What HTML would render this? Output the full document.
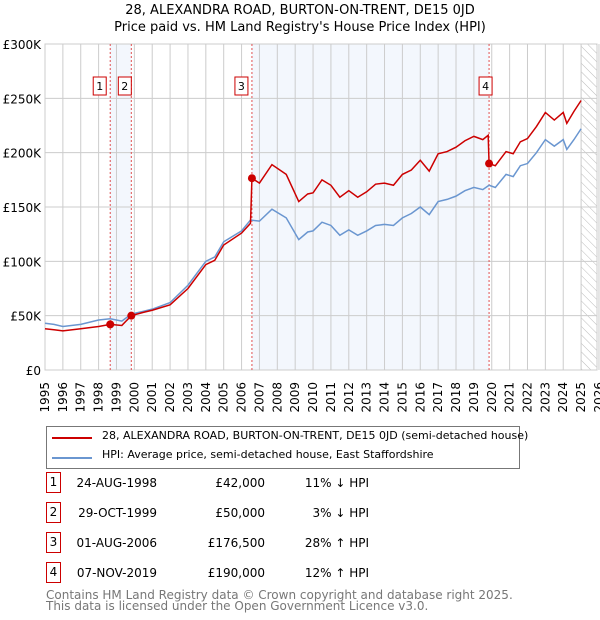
<!DOCTYPE html>
<html><head><meta charset="utf-8"><style>
body{margin:0;background:#fff;font-family:"DejaVu Sans","Liberation Sans",sans-serif;}
#c{position:relative;width:600px;height:620px;overflow:hidden}
.t{position:absolute;font-size:12px;color:#000;white-space:nowrap}
.box{position:absolute;width:13px;height:19px;border:1px solid #c00;font-size:12px;text-align:center;line-height:19px;background:#fff}
</style></head><body><div id="c">
<div class="t" style="left:0;width:600px;text-align:center;top:3px;font-size:13px">28, ALEXANDRA ROAD, BURTON-ON-TRENT, DE15 0JD</div>
<div class="t" style="left:0;width:600px;text-align:center;top:20px;font-size:13px">Price paid vs. HM Land Registry's House Price Index (HPI)</div>
<svg id="s" width="600" height="420" style="position:absolute;left:0;top:0"></svg>
<div style="position:absolute;left:46px;top:426px;width:472px;height:41px;border:1px solid #777">
<div style="position:absolute;left:5px;top:10px;width:40px;height:2px;background:#c00"></div>
<div class="t" style="left:55px;top:2px;font-size:11px">28, ALEXANDRA ROAD, BURTON-ON-TRENT, DE15 0JD (semi-detached house)</div>
<div style="position:absolute;left:5px;top:30px;width:40px;height:2px;background:#6a96d0"></div>
<div class="t" style="left:55px;top:21px;font-size:11px">HPI: Average price, semi-detached house, East Staffordshire</div>
</div>
<div id="tbl"></div>
<div class="t" style="left:46px;top:590px;color:#777;line-height:11px">Contains HM Land Registry data © Crown copyright and database right 2025.<br>This data is licensed under the Open Government Licence v3.0.</div>
</div>
<script>
const hpiYears=[1995,1995.5,1996,1997,1998,1998.65,1999.3,1999.83,2000.5,2001,2002,2003,2004,2004.5,2005,2006,2006.5,2007,2007.7,2008.5,2009.2,2009.7,2010,2010.5,2011,2011.5,2012,2012.5,2013,2013.5,2014,2014.5,2015,2015.5,2016,2016.5,2017,2017.5,2018,2018.5,2019,2019.5,2019.85,2020.2,2020.8,2021.2,2021.6,2022,2022.5,2023,2023.5,2024,2024.2,2024.6,2025];
const hpiValues=[43,42,40,42,46,47.2,45,51.5,54,56,62,78,100,104,118,128,138,137,148,140,120,127,128,136,133,124,129,124,128,133,134,133,140,144,150,143,155,157,160,165,168,166,170,168,180,178,188,190,200,212,206,212,203,212,222];
const redYears=[1995,1995.5,1996,1997,1998,1998.65,1999.3,1999.83,2000.5,2001,2002,2003,2004,2004.5,2005,2006,2006.5,2006.58,2007,2007.7,2008.5,2009.2,2009.7,2010,2010.5,2011,2011.5,2012,2012.5,2013,2013.5,2014,2014.5,2015,2015.5,2016,2016.5,2017,2017.5,2018,2018.5,2019,2019.5,2019.8,2019.85,2020.2,2020.8,2021.2,2021.6,2022,2022.5,2023,2023.5,2024,2024.2,2024.6,2025];
const redValues=[38,37,36,38,40,42,41,50,53,55,60,75,97,101,115,126,135,176.5,172,189,180,155,162,163,175,170,159,165,159,164,171,172,170,180,184,193,183,199,201,205,211,215,212,216,190,188,201,199,210,213,224,237,230,237,227,238,248];
const saleYears=[1998.65,1999.83,2006.58,2019.85];
const salePrices=[42,50,176.5,190];
const saleLabels=["1","2","3","4"];
const saleDates=["24-AUG-1998","29-OCT-1999","01-AUG-2006","07-NOV-2019"];
const salePriceText=["£42,000","£50,000","£176,500","£190,000"];
const saleHpi=["11% ↓ HPI","3% ↓ HPI","28% ↑ HPI","12% ↑ HPI"];
const yTicks=[0,50,100,150,200,250,300];
const yTickLabels=["£0","£50K","£100K","£150K","£200K","£250K","£300K"];
const xTicks=[1995,1996,1997,1998,1999,2000,2001,2002,2003,2004,2005,2006,2007,2008,2009,2010,2011,2012,2013,2014,2015,2016,2017,2018,2019,2020,2021,2022,2023,2024,2025,2026];
const X=y=>45+(y-1995)*17.87, Y=v=>370-v*(326/300);
const s=document.getElementById('s'),NS='http://www.w3.org/2000/svg';
function el(t,a,name){const e=document.createElementNS(NS,t);for(const k in a)e.setAttribute(k,a[k]);


s.appendChild(e);return e;}
el('rect',{x:X(saleYears[0]),y:Y(300),width:X(saleYears[1])-X(saleYears[0]),height:Y(0)-Y(300),fill:'#eef3fc',opacity:.7},'shade-1');
el('rect',{x:X(saleYears[2]),y:Y(300),width:X(saleYears[3])-X(saleYears[2]),height:Y(0)-Y(300),fill:'#eef3fc',opacity:.7},'shade-2');
const d=document.createElementNS(NS,'defs');d.innerHTML='<pattern id="h" width="6" height="6" patternUnits="userSpaceOnUse" patternTransform="rotate(-45)"><line x1="0" y1="0" x2="0" y2="6" stroke="#bbb" stroke-width="1"/></pattern>';s.appendChild(d);
el('rect',{x:X(2025),y:Y(300),width:597-X(2025),height:Y(0)-Y(300),fill:'url(#h)'},'forecast-hatch');
xTicks.forEach(t=>{el('line',{x1:X(t),x2:X(t),y1:Y(300),y2:Y(0),stroke:'#ccc'},'x-grid');
const tx=el('text',{x:0,y:0,'text-anchor':'end','font-size':12,'font-family':'DejaVu Sans,sans-serif',transform:`translate(${X(t)+4},382) rotate(-90)`},'x-tick-label');tx.textContent=t;});
yTicks.forEach((t,i)=>{el('line',{x1:45,x2:597,y1:Y(t),y2:Y(t),stroke:'#ccc'},'y-grid');
const tx=el('text',{x:41,y:Y(t)+5,'text-anchor':'end','font-size':12,'font-family':'DejaVu Sans,sans-serif'},'y-tick-label');tx.textContent=yTickLabels[i];});
el('rect',{x:45,y:Y(300),width:552,height:Y(0)-Y(300),fill:'none',stroke:'#ccc'},'plot-border');
saleYears.forEach((t,i)=>{el('line',{x1:X(t),x2:X(t),y1:Y(300),y2:Y(0),stroke:'#e05050','stroke-dasharray':'2,2'},'sale-line');});
el('polyline',{points:hpiYears.map((t,i)=>X(t)+','+Y(hpiValues[i])).join(' '),fill:'none',stroke:'#6a96d0','stroke-width':1.5},'hpi-line');
el('polyline',{points:redYears.map((t,i)=>X(t)+','+Y(redValues[i])).join(' '),fill:'none',stroke:'#c00','stroke-width':1.5},'price-line');
saleYears.forEach((t,i)=>{el('circle',{cx:X(t),cy:Y(salePrices[i]),r:4,fill:'#c00'},'sale-point');
const bx=X(t)-7-(i==0||i==2?4:0)-(i==3?-3:0);
el('rect',{x:bx-6,y:77,width:13,height:18,fill:'#fff',stroke:'#c00'},'sale-marker-box');
const tx=el('text',{x:bx+0.5,y:90,'text-anchor':'middle','font-size':11,'font-family':'DejaVu Sans,sans-serif'},'sale-marker-label');tx.textContent=saleLabels[i];});
const tb=document.getElementById('tbl');
saleLabels.forEach((l,i)=>{const top=476+i*30;
tb.insertAdjacentHTML('beforeend',`<div class="box" style="left:46px;top:${top-4}px">${l}</div>
<div class="t" style="right:443px;top:${top}px">${saleDates[i]}</div>
<div class="t" style="right:335px;top:${top}px">${salePriceText[i]}</div>
<div class="t" style="right:231px;top:${top}px">${saleHpi[i]}</div>`);});
</script></body></html>
